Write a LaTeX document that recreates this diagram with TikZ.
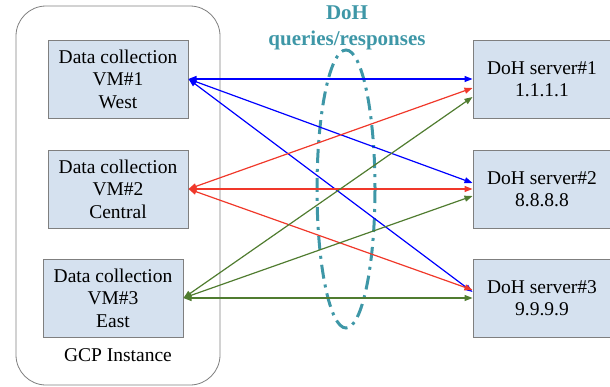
\documentclass[tikz,border=0pt]{standalone}
\usepackage{fontspec}
\setmainfont{Liberation Serif}
\usetikzlibrary{arrows.meta}
\definecolor{boxfill}{HTML}{D5E1EF}
\definecolor{boxline}{HTML}{7F7F7F}
\definecolor{ablue}{HTML}{0000FF}
\definecolor{ared}{HTML}{F0382A}
\definecolor{agreen}{HTML}{507C30}
\definecolor{teal}{HTML}{3E97A7}
\tikzset{
  vmbox/.style={draw=boxline, line width=1pt, fill=boxfill, minimum width=140pt, minimum height=78pt, align=center, font=\fontsize{19.5}{22.5}\selectfont, inner sep=0pt},
  srvbox/.style={draw=boxline, line width=1pt, fill=boxfill, minimum width=138pt, minimum height=78pt, align=center, font=\fontsize{19.5}{22.5}\selectfont, inner sep=0pt},
  link/.style={line width=1.2pt, {Triangle[length=8pt,width=6pt]}-{Triangle[length=8pt,width=6pt]}},
}
\begin{document}
\begin{tikzpicture}[x=1pt,y=-1pt]
\useasboundingbox (0,0) rectangle (610,386);
\draw[boxline, line width=0.8pt, rounded corners=30pt] (16,6) rectangle (220,385);
\node[font=\fontsize{19.5}{20}\selectfont] (gcp) at (118,355) {GCP Instance};
\node[vmbox] (vm1) at (118,79) {Data collection\\VM\#1\\West};
\node[vmbox] (vm2) at (118,189) {Data collection\\VM\#2\\Central};
\node[vmbox] (vm3) at (113,298) {Data collection\\VM\#3\\East};
\node[srvbox] (s1) at (542,79) {DoH server\#1\\1.1.1.1};
\node[srvbox] (s2) at (542,189) {DoH server\#2\\8.8.8.8};
\node[srvbox] (s3) at (542,298) {DoH server\#3\\9.9.9.9};
\node[font=\bfseries\fontsize{21}{26}\selectfont, text=teal, align=center] (lbl) at (347,28) {DoH\\queries/responses};
\draw[teal, line width=3pt, dash pattern=on 14pt off 6pt on 3pt off 6pt] (346,189) ellipse [x radius=29, y radius=139];
\draw[link, ablue] (vm1.east) -- (s1.west);
\draw[link, ablue] (vm1.east) -- ([yshift=6pt]s2.west);
\draw[link, ablue] (vm1.east) -- ([yshift=6pt]s3.west);
\draw[link, ared] (vm2.east) -- ([yshift=-9pt]s1.west);
\draw[link, ared] (vm2.east) -- (s2.west);
\draw[link, ared] (vm2.east) -- ([yshift=8pt]s3.west);
\draw[link, agreen] (vm3.east) -- ([yshift=-18pt]s1.west);
\draw[link, agreen] (vm3.east) -- ([yshift=-7pt]s2.west);
\draw[link, agreen] (vm3.east) -- (s3.west);
\end{tikzpicture}
\end{document}
